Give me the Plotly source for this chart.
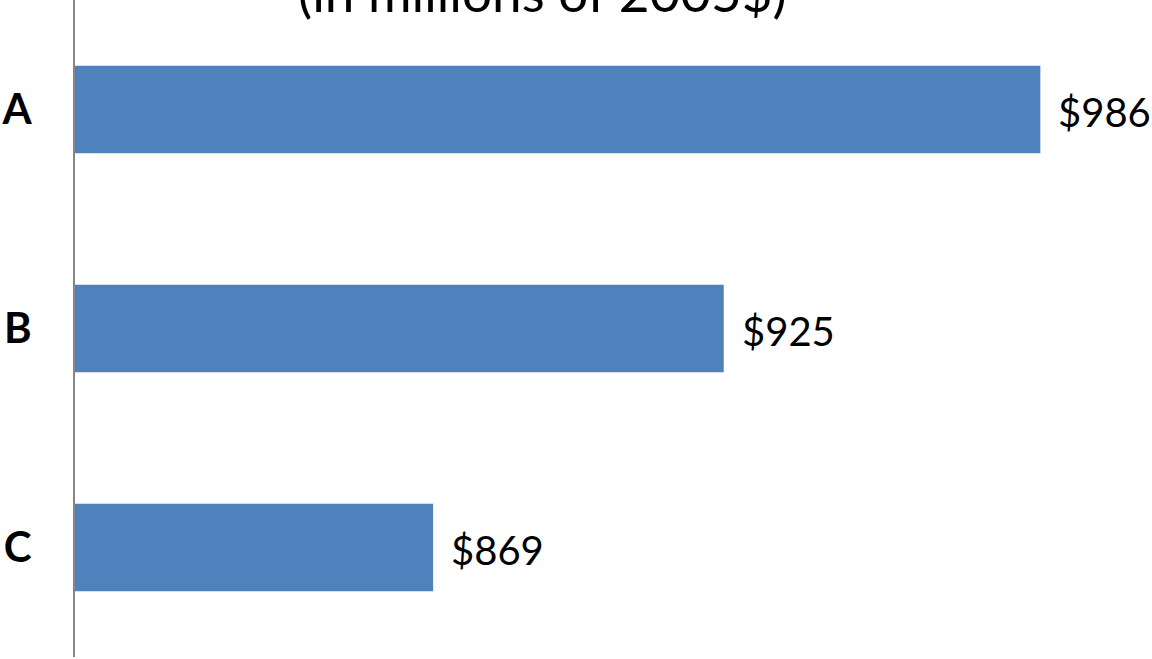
import plotly.graph_objects as go

categories = ["A", "B", "C"]
values = [986, 925, 869]
value_labels = ["$986", "$925", "$869"]
subtitle = "(in millions of 2005$)"

BAR_COLOR = "#4F81BD"
FONT = "Lato, Calibri, sans-serif"

fig = go.Figure(
    go.Bar(
        x=values,
        y=categories,
        orientation="h",
        width=0.4,
        marker=dict(color=BAR_COLOR, line=dict(width=0)),
        hoverinfo="skip",
    )
)

# value labels just past each bar end
for cat, val, lab in zip(categories, values, value_labels):
    fig.add_annotation(
        x=val, y=cat, xref="x", yref="y",
        text=lab, showarrow=False,
        xanchor="left", yanchor="middle", xshift=16, yshift=-2,
        font=dict(family=FONT, size=40, color="#000000"),
    )

# subtitle, partially above the top edge
fig.add_annotation(
    x=(542 - 75) / (1113 - 75), y=1, xref="paper", yref="paper",
    text=subtitle, showarrow=False,
    xanchor="center", yanchor="bottom", yshift=-25,
    font=dict(family=FONT, size=53, color="#000000"),
)

fig.update_layout(
    width=1152, height=659,
    margin=dict(l=75, r=39, t=0, b=2),
    paper_bgcolor="white", plot_bgcolor="white",
    showlegend=False,
    xaxis=dict(range=[800, 1000], visible=False, showgrid=False, zeroline=False),
    yaxis=dict(
        categoryorder="array", categoryarray=categories,
        autorange="reversed", automargin=False,
        showline=True, linecolor="#868686", linewidth=2,
        showgrid=False, zeroline=False,
        ticks="", ticklabelstandoff=33,
        tickfont=dict(family=FONT, size=42, color="#000000", weight="bold"),
    ),
)

fig.write_html("out.html")
